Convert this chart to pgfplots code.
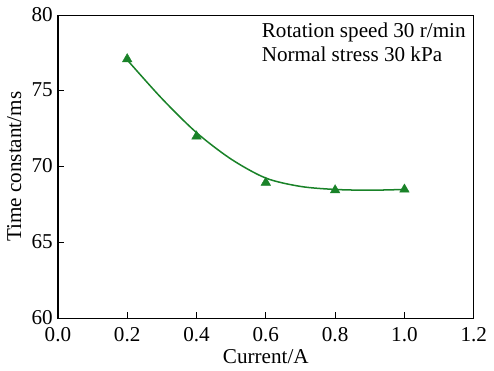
\documentclass[border=0pt]{standalone}
\usepackage{pgfplots}
\pgfplotsset{compat=1.18}
\usepackage{fontspec}
\setmainfont{Liberation Serif}
\definecolor{lgreen}{RGB}{25,130,40}
\begin{document}
\fontsize{21}{24}\selectfont
\begin{tikzpicture}
\begin{axis}[
  scale only axis,
  width=413pt, height=301pt,
  xmin=0, xmax=1.2, ymin=60, ymax=80,
  xtick={0,0.2,...,1.2}, ytick={60,65,...,80},
  x tick label style={/pgf/number format/fixed, /pgf/number format/fixed zerofill, /pgf/number format/precision=1, yshift=-2pt},
  /pgf/number format/assume math mode=true,
  tick align=inside, xtick pos=left, ytick pos=left,
  major tick length=6pt,
  tick style={black, line width=1pt},
  axis line style={line width=1.2pt},
  xlabel={Current/A}, ylabel={Time constant/ms},
  xlabel style={yshift=7pt},
  ylabel style={yshift=-4pt},
  y tick label style={xshift=2pt, yshift=1pt},
  tick label style={font=\fontsize{21}{24}\selectfont},
  label style={font=\fontsize{21}{24}\selectfont},
]
\addplot[lgreen, line width=1.5pt, smooth, tension=0.5] coordinates {
 (0.2,77.05) (0.3,74.5) (0.4,72.25) (0.5,70.5) (0.6,69.25) (0.7,68.7) (0.8,68.5) (0.9,68.45) (1.0,68.5)
};
\addplot[only marks, mark=triangle*, mark size=5.5pt, lgreen] coordinates {
 (0.2,77.1) (0.4,72.0) (0.6,68.95) (0.8,68.45) (1.0,68.5)
};
\node[anchor=north west, align=left, inner sep=0pt, font=\fontsize{21}{24}\selectfont] at (rel axis cs:0.49,0.975) {Rotation speed 30 r/min\\Normal stress 30 kPa};
\end{axis}
\end{tikzpicture}
\end{document}
